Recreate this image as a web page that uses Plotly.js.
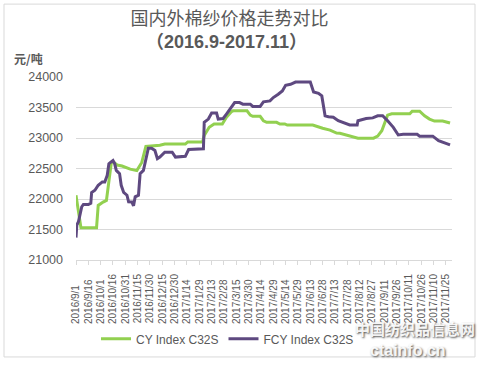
<!DOCTYPE html>
<html>
<head>
<meta charset="utf-8">
<script src="https://cdn.plot.ly/plotly-3.0.1.min.js"></script>
<style>html,body{margin:0;padding:0;background:#fff;}#chart{width:481px;height:366px;}</style>
</head>
<body>
<div id="chart"></div>
<script>
// ---- data ----
const cyName = 'CY Index C32S';
const fcyName = 'FCY Index C32S';

const cyDates = ['2016-09-01','2016-09-06','2016-09-07','2016-09-26','2016-09-28','2016-10-04','2016-10-08','2016-10-14','2016-10-16','2016-10-21','2016-10-27','2016-11-06','2016-11-14','2016-11-20','2016-11-25','2016-12-12','2016-12-18','2017-01-12','2017-01-15','2017-02-02','2017-02-04','2017-02-10','2017-02-16','2017-02-26','2017-03-03','2017-03-09','2017-03-11','2017-03-28','2017-04-01','2017-04-04','2017-04-13','2017-04-17','2017-04-21','2017-05-03','2017-05-07','2017-05-13','2017-05-16','2017-06-16','2017-06-21','2017-06-28','2017-07-07','2017-07-15','2017-07-19','2017-07-31','2017-08-10','2017-08-29','2017-09-03','2017-09-08','2017-09-12','2017-09-15','2017-09-20','2017-10-12','2017-10-15','2017-10-24','2017-10-30','2017-11-05','2017-11-11','2017-11-21','2017-11-30'];
const cyValues = [22060,21570,21530,21530,21895,21950,21977,22600,22610,22557,22540,22490,22465,22600,22862,22880,22900,22900,22936,22936,23040,23175,23230,23230,23340,23430,23445,23445,23375,23355,23355,23283,23257,23257,23230,23230,23213,23213,23190,23160,23130,23080,23078,23040,22997,22997,23030,23120,23257,23375,23397,23397,23440,23440,23364,23310,23278,23278,23245];

const fcyDates = ['2016-09-01','2016-09-02','2016-09-04','2016-09-08','2016-09-10','2016-09-16','2016-09-19','2016-09-20','2016-09-24','2016-09-28','2016-10-03','2016-10-06','2016-10-09','2016-10-11','2016-10-13','2016-10-16','2016-10-18','2016-10-20','2016-10-24','2016-10-26','2016-10-29','2016-11-02','2016-11-04','2016-11-08','2016-11-10','2016-11-12','2016-11-16','2016-11-18','2016-11-22','2016-11-24','2016-11-28','2016-12-02','2016-12-06','2016-12-09','2016-12-12','2016-12-18','2016-12-27','2016-12-31','2017-01-12','2017-01-16','2017-02-03','2017-02-04','2017-02-09','2017-02-13','2017-02-19','2017-02-21','2017-02-27','2017-03-03','2017-03-09','2017-03-13','2017-03-19','2017-03-23','2017-04-01','2017-04-04','2017-04-13','2017-04-17','2017-04-25','2017-04-29','2017-05-05','2017-05-10','2017-05-14','2017-05-20','2017-05-26','2017-06-13','2017-06-17','2017-06-23','2017-06-27','2017-07-01','2017-07-05','2017-07-11','2017-07-17','2017-07-23','2017-07-31','2017-08-09','2017-08-10','2017-08-20','2017-08-28','2017-09-03','2017-09-09','2017-09-14','2017-09-22','2017-09-28','2017-10-04','2017-10-21','2017-10-24','2017-11-09','2017-11-16','2017-11-30'];
const fcyValues = [21368,21574,21628,21873,21911,21911,21930,22107,22144,22225,22280,22280,22388,22578,22600,22632,22580,22469,22416,22225,22107,22062,21953,21950,21888,22036,22062,22416,22469,22605,22833,22833,22795,22660,22687,22768,22768,22687,22700,22811,22822,23257,23310,23408,23408,23310,23320,23392,23500,23580,23580,23555,23555,23517,23517,23592,23608,23663,23717,23771,23864,23880,23917,23917,23755,23733,23690,23365,23348,23340,23283,23257,23213,23213,23283,23318,23330,23364,23364,23298,23175,23050,23060,23060,23030,23030,22957,22887];

const tickLabels = ['2016/9/1','2016/9/16','2016/10/1','2016/10/16','2016/10/31','2016/11/15','2016/11/30','2016/12/15','2016/12/30','2017/1/14','2017/1/29','2017/2/13','2017/2/28','2017/3/15','2017/3/30','2017/4/14','2017/4/29','2017/5/14','2017/5/29','2017/6/13','2017/6/28','2017/7/13','2017/7/28','2017/8/12','2017/8/27','2017/9/11','2017/9/26','2017/10/11','2017/10/26','2017/11/10','2017/11/25'];
const yTicks = [21000,21500,22000,22500,23000,23500,24000];

// ---- helpers ----
function toISO(s){const p=s.split('/');return p[0]+'-'+p[1].padStart(2,'0')+'-'+p[2].padStart(2,'0');}
function padLabel(s){const digits=(s.match(/\d/g)||[]).length;return s+'\u00a0'.repeat(Math.max(0,(8-digits)*2));}

const W=481,H=366,L=76,R=29,T=77,B=104;
const PW=W-L-R, PH=H-T-B;
const px=x=>(x-L)/PW, py=y=>(H-B-y)/PH;

const grey='#595959';
const traces=[
 {x:cyDates,y:cyValues,name:cyName,type:'scatter',mode:'lines',line:{color:'#92d050',width:3}},
 {x:fcyDates,y:fcyValues,name:fcyName,type:'scatter',mode:'lines',line:{color:'#5e4980',width:3}}
];

const layout={
 width:W,height:H,
 margin:{l:L,r:R,t:T,b:B,pad:0},
 paper_bgcolor:'#fff',plot_bgcolor:'#fff',
 font:{family:'Arial, "Liberation Sans", "Noto Sans CJK SC", sans-serif',color:grey},
 title:{text:'国内外棉纱价格走势对比',font:{family:'"Noto Sans CJK SC", sans-serif',size:18,color:grey},
   xref:'container',x:229.5/W,xanchor:'center',yref:'container',y:1-19/H,yanchor:'middle'},
 xaxis:{type:'date',range:['2016-09-01','2017-12-02 09:00'],
   tickmode:'array',tickvals:tickLabels.map(toISO),ticktext:tickLabels.map(padLabel),
   tickangle:-90,tickfont:{size:10,color:grey},
   ticks:'outside',ticklen:4,tickcolor:'#d9d9d9',tickwidth:1,ticklabelstandoff:5,
   showline:true,linecolor:'#d9d9d9',linewidth:1,showgrid:false,zeroline:false,fixedrange:true},
 yaxis:{range:[21000,24000],tickmode:'array',tickvals:yTicks,ticktext:yTicks.map(String),
   tickfont:{size:12.5,color:grey},ticks:'',ticklabelstandoff:12,
   showgrid:true,gridcolor:'#d9d9d9',gridwidth:1,zeroline:false,showline:false,fixedrange:true},
 showlegend:true,
 legend:{orientation:'h',x:px(96),xanchor:'left',y:py(341.7),yanchor:'middle',
   font:{size:12,color:grey},bgcolor:'rgba(0,0,0,0)',borderwidth:0},
 shapes:[{type:'rect',xref:'paper',yref:'paper',x0:px(4),x1:px(475),y0:py(360),y1:py(3.3),
   line:{color:'#d9d9d9',width:1},fillcolor:'rgba(0,0,0,0)',layer:'below'}],
 annotations:[
  {text:'<b>（2016.9-2017.11）</b>',xref:'paper',yref:'paper',x:px(226.7),y:py(42),xanchor:'center',yanchor:'middle',
   showarrow:false,font:{family:'Arial, "Liberation Sans", "Noto Sans CJK SC", sans-serif',size:18,color:grey}},
  {text:'<b>元/吨</b>',xref:'paper',yref:'paper',x:px(12),y:py(58),xanchor:'left',yanchor:'middle',
   showarrow:false,font:{family:'"Noto Sans CJK SC", sans-serif',size:12,color:grey}},
  {text:'<b>中国纺织品信息网</b>',xref:'paper',yref:'paper',x:px(477),y:py(331),xanchor:'right',yanchor:'middle',
   showarrow:false,font:{family:'"Noto Sans CJK SC", sans-serif',size:15,color:'rgba(255,255,255,0.92)',shadow:'1px 1px 2px #444'}},
  {text:'<b>ctainfo.cn</b>',xref:'paper',yref:'paper',x:px(408),y:py(353),xanchor:'center',yanchor:'middle',
   showarrow:false,font:{family:'Arial, "Liberation Sans", sans-serif',size:16,color:'rgba(255,255,255,0.92)',shadow:'1px 1px 2px #444'}}
 ]
};

Plotly.newPlot('chart',traces,layout,{staticPlot:true,displayModeBar:false});
</script>
</body>
</html>
